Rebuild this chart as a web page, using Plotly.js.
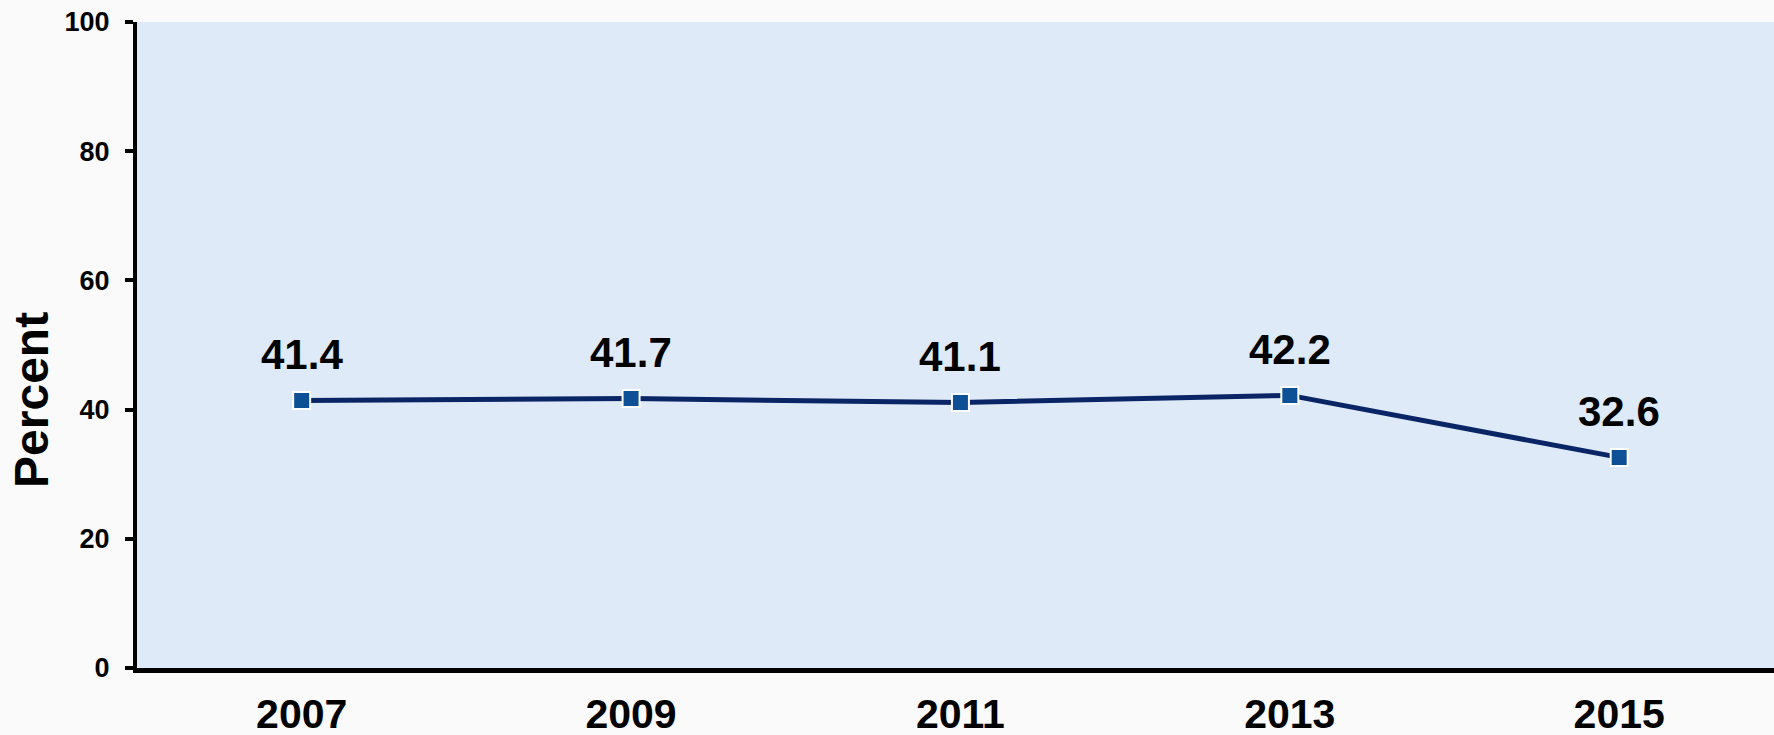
<!DOCTYPE html>
<html>
<head>
<meta charset="utf-8">
<script src="https://cdn.plot.ly/plotly-3.0.1.min.js"></script>
<style>
  html, body { margin: 0; padding: 0; background: #fafafa; }
  #chart { width: 1774px; height: 735px; }
</style>
</head>
<body>
<div id="chart"></div>
<script>
const years = ['2007', '2009', '2011', '2013', '2015'];
const percent = [41.4, 41.7, 41.1, 42.2, 32.6];
const yTicks = [0, 20, 40, 60, 80, 100];
const yTitle = 'Percent';

const FONT = 'Liberation Sans, Arial, sans-serif';

const trace = {
    type: 'scatter',
    mode: 'lines+markers',
    x: years,
    y: percent,
    line: { color: '#0a2565', width: 5 },
    marker: {
        symbol: 'square',
        size: 17,
        color: '#0e5096',
        line: { color: '#ffffff', width: 2 }
    },
    hoverinfo: 'x+y',
    showlegend: false
};

// value labels above each point (category axis -> annotation x is the category index)
const labels = years.map((yr, i) => ({
    x: i,
    y: percent[i],
    xref: 'x',
    yref: 'y',
    text: percent[i].toFixed(1),
    showarrow: false,
    yanchor: 'middle',
    yshift: 46,
    font: { family: FONT, size: 42, color: '#000000', weight: 'bold' }
}));

// y title sits a bit below the plot's middle in the original, so place it by hand
labels.push({
    xref: 'paper',
    yref: 'paper',
    x: 0,
    y: 0.415,
    xanchor: 'center',
    yanchor: 'middle',
    xshift: -105,
    textangle: -90,
    text: yTitle,
    showarrow: false,
    font: { family: FONT, size: 48, color: '#000000', weight: 'bold' }
});

const layout = {
    width: 1774,
    height: 735,
    margin: { l: 137, r: 0, t: 22, b: 67 },
    paper_bgcolor: '#fafafa',
    plot_bgcolor: '#deeaf8',
    font: { family: FONT, color: '#000000' },
    xaxis: {
        type: 'category',
        range: [-0.5, 4.47],
        showgrid: false,
        zeroline: false,
        showline: true,
        linecolor: '#000000',
        linewidth: 5,
        ticks: '',
        ticklabelstandoff: 6,
        tickfont: { family: FONT, size: 41, color: '#000000', weight: 'bold' },
        fixedrange: true
    },
    yaxis: {
        range: [0, 100],
        tickvals: yTicks,
        showgrid: false,
        zeroline: false,
        showline: true,
        linecolor: '#000000',
        linewidth: 4,
        ticks: 'outside',
        ticklen: 8,
        tickwidth: 4,
        tickcolor: '#000000',
        ticklabelstandoff: 10,
        tickfont: { family: FONT, size: 27, color: '#000000', weight: 'bold' },
        automargin: false,
        fixedrange: true
    },
    annotations: labels
};

Plotly.newPlot('chart', [trace], layout, { displayModeBar: false, staticPlot: true });
</script>
</body>
</html>
